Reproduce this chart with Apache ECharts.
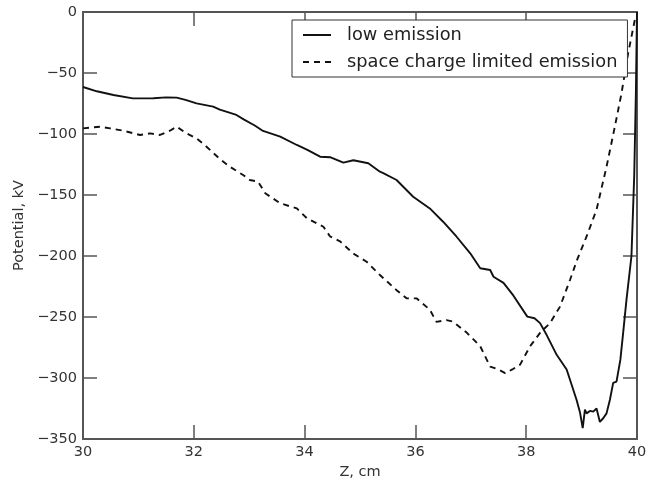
<!DOCTYPE html>
<html>
<head>
<meta charset="utf-8">
<script src="https://cdn.jsdelivr.net/npm/echarts@6/dist/echarts.min.js"></script>
<style>
html,body{margin:0;padding:0;background:#fff;}
#chart{width:659px;height:487px;}
</style>
</head>
<body>
<div id="chart"></div>
<script>
// Data
var seriesNames = ['low emission', 'space charge limited emission'];
var xTicks = [30, 32, 34, 36, 38, 40];
var yTicks = [-350, -300, -250, -200, -150, -100, -50, 0];

var lowZ = [30.0, 30.25, 30.55, 30.9, 31.27, 31.5, 31.69, 31.85, 32.05, 32.35, 32.47, 32.77, 32.9, 33.1, 33.25, 33.56, 33.86, 34.05, 34.28, 34.46, 34.7, 34.88, 35.15, 35.36, 35.42, 35.66, 35.96, 36.26, 36.5, 36.74, 36.99, 37.17, 37.35, 37.41, 37.59, 37.77, 38.02, 38.15, 38.25, 38.37, 38.55, 38.73, 38.91, 38.97, 39.02, 39.06, 39.09, 39.15, 39.21, 39.27, 39.33, 39.39, 39.45, 39.51, 39.57, 39.63, 39.7, 39.75, 39.81, 39.9, 39.95, 39.98, 40.0];
var lowV = [-61.5, -65, -68, -70.8, -70.7, -70, -70.2, -72, -74.9, -77.6, -80, -84.4, -88, -93, -97.5, -102.2, -109, -113, -118.6, -119, -123.5, -121.5, -124, -130.9, -132, -137.7, -151.4, -161, -171.9, -184, -197.8, -210, -211.5, -217, -222, -232.5, -249.7, -251, -255, -264.8, -281, -293, -318, -328, -341, -326, -329, -327, -327.6, -325, -336, -333, -329, -318, -304, -303, -285, -263, -236, -200, -134, -66, 0];

var sclZ = [30.0, 30.31, 30.49, 30.73, 31.03, 31.21, 31.39, 31.57, 31.69, 31.87, 32.05, 32.23, 32.47, 32.65, 32.89, 33.01, 33.16, 33.29, 33.56, 33.86, 34.04, 34.34, 34.46, 34.64, 34.88, 35.12, 35.36, 35.66, 35.84, 36.02, 36.26, 36.38, 36.56, 36.68, 36.93, 37.17, 37.35, 37.5, 37.62, 37.75, 37.89, 38.07, 38.25, 38.43, 38.61, 38.79, 38.92, 39.09, 39.27, 39.45, 39.6, 39.72, 39.84, 39.96];
var sclV = [-95.4, -94, -95.4, -97.3, -100.8, -99.5, -100.8, -97.3, -94, -99.5, -103.6, -110.4, -120.5, -126.8, -133.6, -137.7, -139, -148.6, -156.8, -161, -169, -176, -184, -188, -198, -204.7, -215.6, -228, -234.7, -234.7, -244, -254, -252.5, -253.8, -263, -274, -290.7, -293, -296, -293, -289, -274, -263, -255, -241.5, -219.7, -203, -184, -162, -126.8, -94, -66.7, -33.9, -6.6];

function pairs(xs, ys) { return xs.map(function (x, i) { return [x, ys[i]]; }); }
function fmt(v) { return v < 0 ? '\u2212' + Math.abs(v) : String(v); }

var axisColor = '#555';
var textColor = '#333';
var font = 'DejaVu Sans';

var chart = echarts.init(document.getElementById('chart'), null, { renderer: 'canvas' });

function xAx(pos, showLabel) {
  return {
    type: 'value', position: pos, min: xTicks[0], max: xTicks[xTicks.length - 1], interval: 2,
    name: showLabel ? 'Z, cm' : '', nameLocation: 'middle', nameGap: 26,
    nameTextStyle: { fontFamily: font, fontSize: 14.5, color: textColor },
    axisLine: { show: true, onZero: false, lineStyle: { color: axisColor, width: 2 } },
    axisTick: { show: true, inside: true, length: 14, lineStyle: { color: axisColor, width: 1.5 } },
    axisLabel: { show: showLabel, margin: 6, fontFamily: font, fontSize: 14.5, color: textColor, formatter: fmt },
    splitLine: { show: false }
  };
}
function yAx(pos, showLabel) {
  return {
    type: 'value', position: pos, min: yTicks[0], max: yTicks[yTicks.length - 1], interval: 50,
    name: showLabel ? 'Potential, kV' : '', nameLocation: 'middle', nameGap: 51, nameRotate: 90,
    nameTextStyle: { fontFamily: font, fontSize: 14.5, color: textColor },
    axisLine: { show: true, onZero: false, lineStyle: { color: axisColor, width: 2 } },
    axisTick: { show: true, inside: true, length: 14, lineStyle: { color: axisColor, width: 1.5 } },
    axisLabel: { show: showLabel, margin: 6, fontFamily: font, fontSize: 14.5, color: textColor, formatter: fmt },
    splitLine: { show: false }
  };
}

chart.setOption({
  animation: false,
  backgroundColor: '#fff',
  grid: { left: 83, right: 22, top: 12, bottom: 48, containLabel: false },
  xAxis: [xAx('bottom', true), xAx('top', false)],
  yAxis: [yAx('left', true), yAx('right', false)],
  legend: {
    orient: 'vertical', left: 292, top: 20,
    padding: [6, 10, 6, 10], itemGap: 9, itemWidth: 28, itemHeight: 14,
    backgroundColor: '#fff', borderColor: '#333', borderWidth: 1, borderRadius: 0,
    itemStyle: { opacity: 0, color: 'rgba(0,0,0,0)', borderWidth: 0 },
    textStyle: { fontFamily: font, fontSize: 17.8, color: '#222', padding: [0, 0, 0, 11] },
    data: seriesNames
  },
  series: [
    {
      name: seriesNames[0], type: 'line', xAxisIndex: 0, yAxisIndex: 0,
      data: pairs(lowZ, lowV), showSymbol: false, symbol: 'none', smooth: false,
      lineStyle: { color: '#111', width: 1.9, type: 'solid' }, itemStyle: { color: '#111' }
    },
    {
      name: seriesNames[1], type: 'line', xAxisIndex: 0, yAxisIndex: 0,
      data: pairs(sclZ, sclV), showSymbol: false, symbol: 'none', smooth: false,
      lineStyle: { color: '#111', width: 1.9, type: [6, 5] }, itemStyle: { color: '#111' }
    }
  ]
});
</script>
</body>
</html>
